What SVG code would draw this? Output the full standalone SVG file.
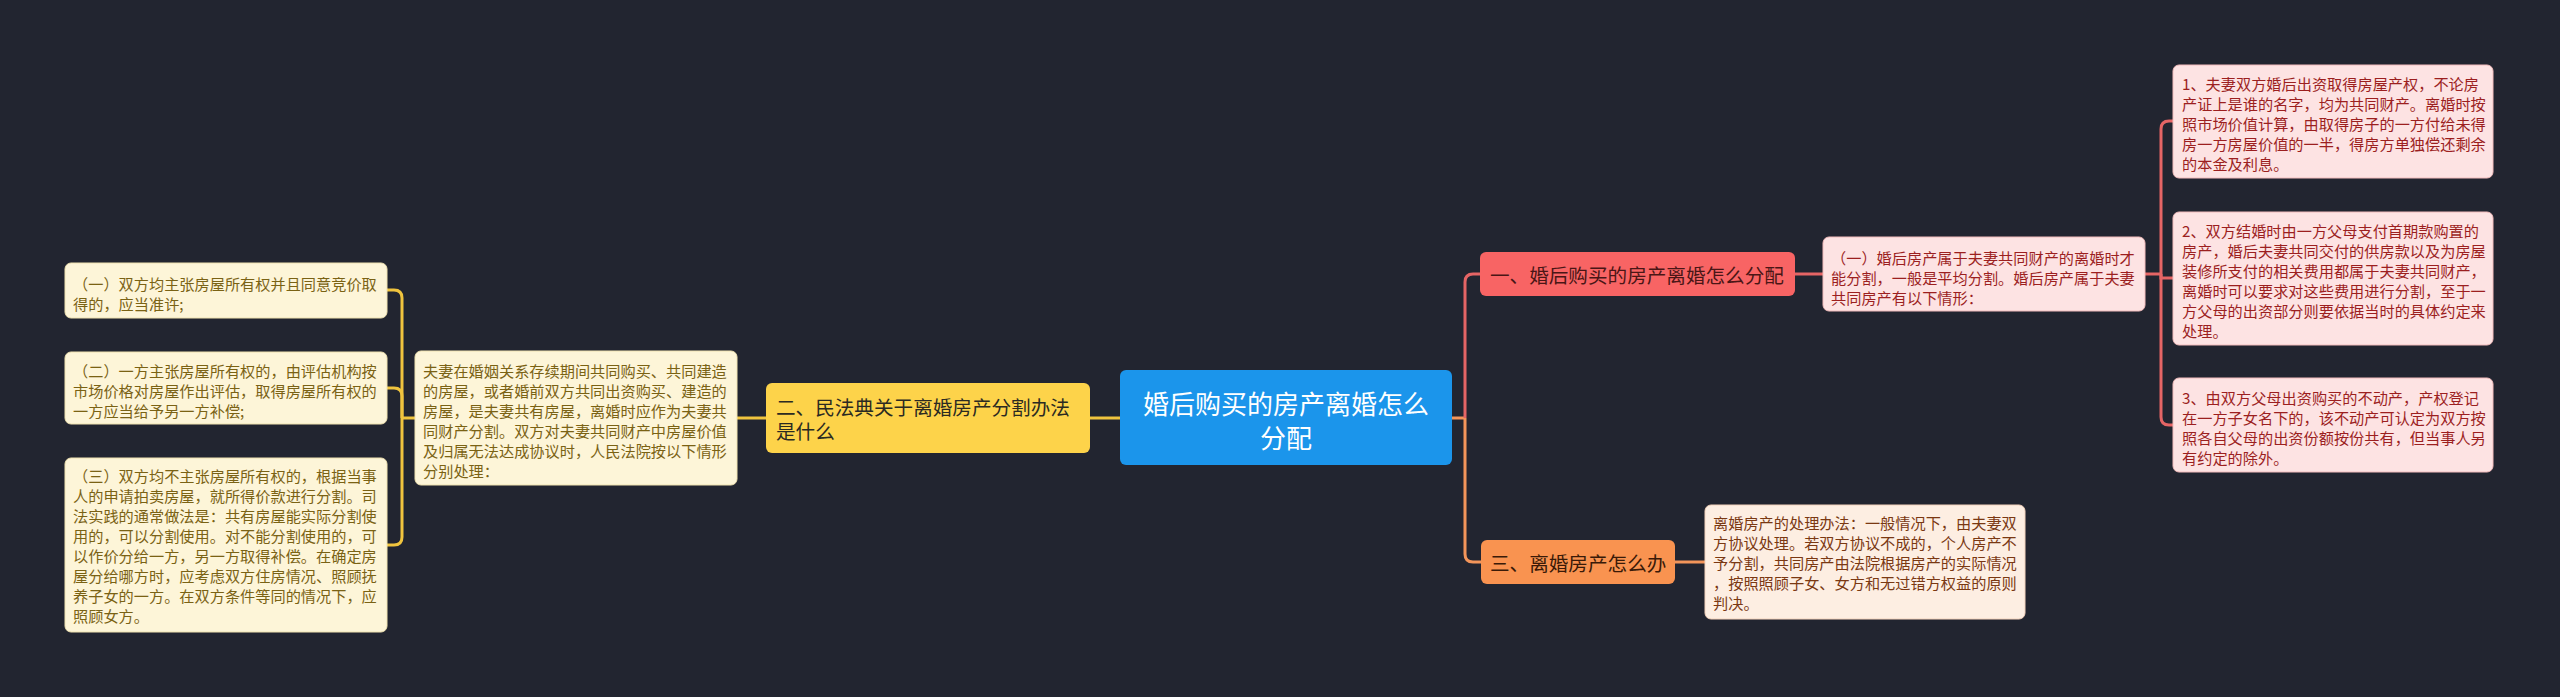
<svg xmlns="http://www.w3.org/2000/svg" width="2560" height="697" viewBox="0 0 2560 697">
<style>
text{font-family:"Noto Sans CJK SC","Noto Sans",sans-serif;dominant-baseline:central}
.leafY{fill:#fdf5d8;stroke:#efe2b0;stroke-width:1}
.tY{fill:#7a6214;font-size:15.2px}
.leafR{fill:#fde3e3;stroke:#f2bcbc;stroke-width:1}
.tR{fill:#9c1f1f;font-size:15.2px}
.leafO{fill:#fdeee2;stroke:#f3d2bb;stroke-width:1}
.tO{fill:#7a3812;font-size:15.2px}
.cY{stroke:#f0c43e;stroke-width:3;fill:none}
.cR{stroke:#e56565;stroke-width:3;fill:none}
.cO{stroke:#f3955a;stroke-width:3;fill:none}
</style>
<rect width="2560" height="697" fill="#222530"/>
<g id="connectors">
<path class="cY" d="M1120,418 H1090"/>
<path class="cY" d="M766,418 H737"/>
<path class="cY" d="M415,418 H402"/>
<path class="cY" d="M402,418 V298 Q402,290 394,290 H387"/>
<path class="cY" d="M402,418 V396 Q402,388 394,388 H387"/>
<path class="cY" d="M402,418 V537 Q402,545 394,545 H387"/>
<path class="cO" d="M1452,418 H1465"/>
<path class="cR" d="M1465,418 V282 Q1465,274 1473,274 H1480"/>
<path class="cO" d="M1465,418 V554 Q1465,562 1473,562 H1481"/>
<path class="cR" d="M1795,274 H1823"/>
<path class="cR" d="M2145,274 H2161"/>
<path class="cR" d="M2161,274 V129 Q2161,121 2169,121 H2173"/>
<path class="cR" d="M2161,274 V278 H2173"/>
<path class="cR" d="M2161,274 V417 Q2161,425 2169,425 H2173"/>
<path class="cO" d="M1675,562 H1705"/>
</g>
<g id="center">
<rect x="1120" y="370" width="332" height="95" rx="6" fill="#1b95eb"/>
<text x="1286" y="402" font-size="26" fill="#ffffff" text-anchor="middle">婚后购买的房产离婚怎么</text>
<text x="1286" y="436" font-size="26" fill="#ffffff" text-anchor="middle">分配</text>
</g>
<g id="n2">
<rect x="766" y="383" width="324" height="70" rx="6" fill="#fdd34a"/>
<text x="776" y="406" font-size="19.6" fill="#2b2a22">二、民法典关于离婚房产分割办法</text>
<text x="776" y="430" font-size="19.6" fill="#2b2a22">是什么</text>
</g>
<g id="n2detail">
<rect class="leafY" x="415" y="351" width="322" height="134" rx="6"/>
<text class="tY" x="423" y="370">夫妻在婚姻关系存续期间共同购买、共同建造</text>
<text class="tY" x="423" y="390">的房屋，或者婚前双方共同出资购买、建造的</text>
<text class="tY" x="423" y="410">房屋，是夫妻共有房屋，离婚时应作为夫妻共</text>
<text class="tY" x="423" y="430">同财产分割。双方对夫妻共同财产中房屋价值</text>
<text class="tY" x="423" y="450">及归属无法达成协议时，人民法院按以下情形</text>
<text class="tY" x="423" y="470">分别处理：</text>
</g>
<g id="leafL1">
<rect class="leafY" x="65" y="263" width="322" height="55" rx="6"/>
<text class="tY" x="73" y="283">（一）双方均主张房屋所有权并且同意竞价取</text>
<text class="tY" x="73" y="303">得的，应当准许;</text>
</g>
<g id="leafL2">
<rect class="leafY" x="65" y="352" width="322" height="72" rx="6"/>
<text class="tY" x="73" y="370">（二）一方主张房屋所有权的，由评估机构按</text>
<text class="tY" x="73" y="390">市场价格对房屋作出评估，取得房屋所有权的</text>
<text class="tY" x="73" y="410">一方应当给予另一方补偿;</text>
</g>
<g id="leafL3">
<rect class="leafY" x="65" y="458" width="322" height="174" rx="6"/>
<text class="tY" x="73" y="475">（三）双方均不主张房屋所有权的，根据当事</text>
<text class="tY" x="73" y="495">人的申请拍卖房屋，就所得价款进行分割。司</text>
<text class="tY" x="73" y="515">法实践的通常做法是：共有房屋能实际分割使</text>
<text class="tY" x="73" y="535">用的，可以分割使用。对不能分割使用的，可</text>
<text class="tY" x="73" y="555">以作价分给一方，另一方取得补偿。在确定房</text>
<text class="tY" x="73" y="575">屋分给哪方时，应考虑双方住房情况、照顾抚</text>
<text class="tY" x="73" y="595">养子女的一方。在双方条件等同的情况下，应</text>
<text class="tY" x="73" y="615">照顾女方。</text>
</g>
<g id="n1">
<rect x="1480" y="252" width="315" height="44" rx="6" fill="#f86464"/>
<text x="1490" y="274" font-size="19.6" fill="#4a1616">一、婚后购买的房产离婚怎么分配</text>
</g>
<g id="n1detail">
<rect class="leafR" x="1823" y="237" width="322" height="74" rx="6"/>
<text class="tR" x="1831" y="257">（一）婚后房产属于夫妻共同财产的离婚时才</text>
<text class="tR" x="1831" y="277">能分割，一般是平均分割。婚后房产属于夫妻</text>
<text class="tR" x="1831" y="297">共同房产有以下情形：</text>
</g>
<g id="leafR1">
<rect class="leafR" x="2173" y="65" width="320" height="113" rx="6"/>
<text class="tR" x="2182" y="83">1、夫妻双方婚后出资取得房屋产权，不论房</text>
<text class="tR" x="2182" y="103">产证上是谁的名字，均为共同财产。离婚时按</text>
<text class="tR" x="2182" y="123">照市场价值计算，由取得房子的一方付给未得</text>
<text class="tR" x="2182" y="143">房一方房屋价值的一半，得房方单独偿还剩余</text>
<text class="tR" x="2182" y="163">的本金及利息。</text>
</g>
<g id="leafR2">
<rect class="leafR" x="2173" y="212" width="320" height="133" rx="6"/>
<text class="tR" x="2182" y="230">2、双方结婚时由一方父母支付首期款购置的</text>
<text class="tR" x="2182" y="250">房产，婚后夫妻共同交付的供房款以及为房屋</text>
<text class="tR" x="2182" y="270">装修所支付的相关费用都属于夫妻共同财产，</text>
<text class="tR" x="2182" y="290">离婚时可以要求对这些费用进行分割，至于一</text>
<text class="tR" x="2182" y="310">方父母的出资部分则要依据当时的具体约定来</text>
<text class="tR" x="2182" y="330">处理。</text>
</g>
<g id="leafR3">
<rect class="leafR" x="2173" y="378" width="320" height="94" rx="6"/>
<text class="tR" x="2182" y="397">3、由双方父母出资购买的不动产，产权登记</text>
<text class="tR" x="2182" y="417">在一方子女名下的，该不动产可认定为双方按</text>
<text class="tR" x="2182" y="437">照各自父母的出资份额按份共有，但当事人另</text>
<text class="tR" x="2182" y="457">有约定的除外。</text>
</g>
<g id="n3">
<rect x="1481" y="540" width="194" height="44" rx="6" fill="#f99350"/>
<text x="1490" y="562" font-size="19.6" fill="#3a1a08">三、离婚房产怎么办</text>
</g>
<g id="n3detail">
<rect class="leafO" x="1705" y="505" width="320" height="114" rx="6"/>
<text class="tO" x="1713" y="522">离婚房产的处理办法：一般情况下，由夫妻双</text>
<text class="tO" x="1713" y="542">方协议处理。若双方协议不成的，个人房产不</text>
<text class="tO" x="1713" y="562">予分割，共同房产由法院根据房产的实际情况</text>
<text class="tO" x="1713" y="582">，按照照顾子女、女方和无过错方权益的原则</text>
<text class="tO" x="1713" y="602">判决。</text>
</g>
</svg>
